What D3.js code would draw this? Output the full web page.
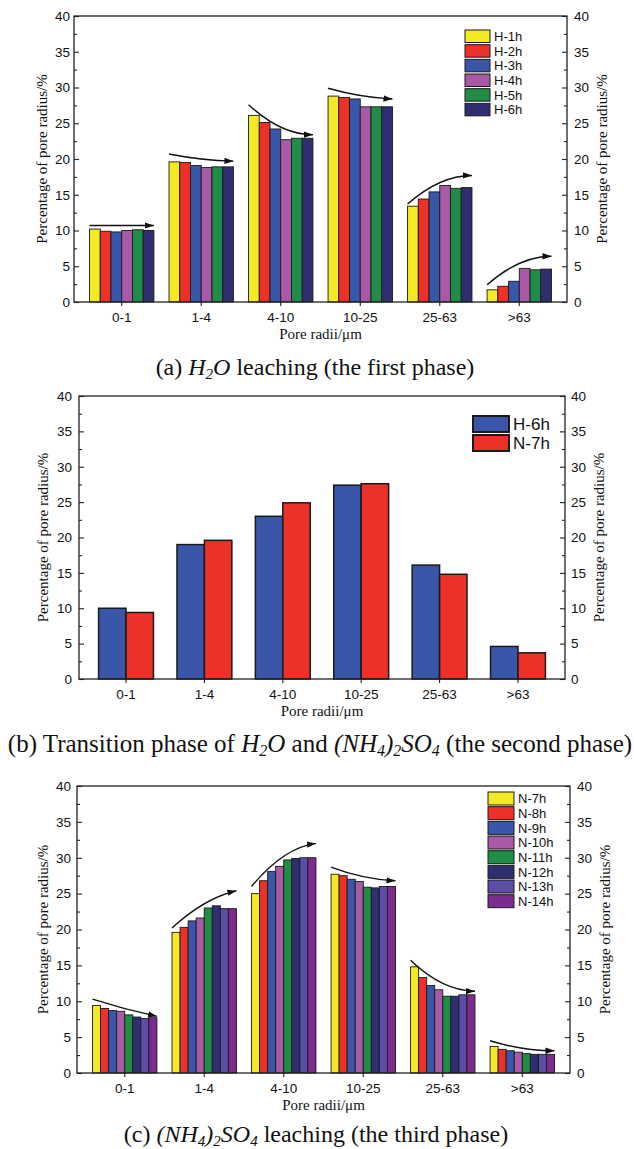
<!DOCTYPE html>
<html>
<head>
<meta charset="utf-8">
<script src="https://cdn.jsdelivr.net/npm/d3@7"></script>
<style>
  body { margin: 0; background: #fff; }
  .tick text { font-family: "Liberation Sans", Arial, sans-serif; font-size: 13.5px; fill: #111; }
  .serif { font-family: "Liberation Serif", "Times New Roman", serif; fill: #111; }
  .sans { font-family: "Liberation Sans", Arial, sans-serif; fill: #111; }
</style>
</head>
<body>
<div id="chart"></div>
<script>
// ---- data ----
const categories = ["0-1", "1-4", "4-10", "10-25", "25-63", ">63"];
const yTicks = [0, 5, 10, 15, 20, 25, 30, 35, 40];
const yMinorTicks = [2.5, 7.5, 12.5, 17.5, 22.5, 27.5, 32.5, 37.5];

// (a) H2O leaching
const seriesA = ["H-1h", "H-2h", "H-3h", "H-4h", "H-5h", "H-6h"];
const valuesA = [
  [10.2, 19.6, 26.1, 28.8, 13.4, 1.7],
  [9.9, 19.5, 25.1, 28.6, 14.4, 2.2],
  [9.8, 19.1, 24.2, 28.4, 15.4, 2.9],
  [10.0, 18.8, 22.7, 27.3, 16.3, 4.7],
  [10.1, 18.9, 22.9, 27.3, 15.9, 4.5],
  [10.0, 18.9, 22.9, 27.3, 16.0, 4.6]
];
// trend arrows: start and end value per category
const arrowsA = [[10.7, 10.7], [20.7, 19.7], [27.6, 23.4], [29.9, 28.4], [13.7, 17.7], [2.4, 6.4]];

// (b) transition
const seriesB = ["H-6h", "N-7h"];
const valuesB = [
  [10.0, 19.0, 23.0, 27.4, 16.1, 4.6],
  [9.4, 19.6, 24.9, 27.6, 14.8, 3.7]
];

// (c) (NH4)2SO4 leaching
const seriesC = ["N-7h", "N-8h", "N-9h", "N-10h", "N-11h", "N-12h", "N-13h", "N-14h"];
const valuesC = [
  [9.4, 19.6, 25.0, 27.7, 14.8, 3.7],
  [9.0, 20.3, 26.8, 27.5, 13.3, 3.3],
  [8.7, 21.2, 28.1, 27.0, 12.2, 3.1],
  [8.6, 21.6, 28.8, 26.7, 11.6, 2.9],
  [8.1, 23.0, 29.7, 25.9, 10.7, 2.7],
  [7.8, 23.3, 29.9, 25.8, 10.7, 2.6],
  [7.6, 22.9, 30.0, 26.0, 10.9, 2.6],
  [7.7, 22.9, 30.0, 26.0, 10.9, 2.6]
];
const arrowsC = [[10.3, 7.9], [20.2, 25.4], [26.0, 32.0], [28.7, 26.8], [15.7, 11.4], [4.5, 3.1]];

const yLabel = "Percentage of pore radius/%";
const xLabel = "Pore radii/\u03bcm";

// caption pieces: [text, italic, subscript]
const captionA = [["(a) "], ["H", 1], ["2", 1, 1], ["O", 1], [" leaching (the first phase)"]];
const captionB = [["(b) Transition phase of "], ["H", 1], ["2", 1, 1], ["O", 1], [" and "],
  ["(NH", 1], ["4", 1, 1], [")", 1], ["2", 1, 1], ["SO", 1], ["4", 1, 1], [" (the second phase)"]];
const captionC = [["(c) "], ["(NH", 1], ["4", 1, 1], [")", 1], ["2", 1, 1], ["SO", 1], ["4", 1, 1],
  [" leaching (the third phase)"]];

// ---- styles ----
const colorsA = ["#f3ea25", "#ec3129", "#3a56a8", "#a95aa6", "#1f8c48", "#2f2e70"];
const colorsB = ["#3a56a8", "#ec3129"];
const colorsC = ["#f3ea25", "#ec3129", "#3a56a8", "#a95aa6", "#1f8c48", "#2f2e70", "#5b4ea6", "#7c2b8e"];

const width = 634, height = 1149;

const svg = d3.select("#chart").append("svg")
  .attr("width", width)
  .attr("height", height);

svg.append("defs").append("marker")
  .attr("id", "head")
  .attr("viewBox", "0 0 10 10")
  .attr("refX", 10).attr("refY", 5)
  .attr("markerWidth", 9).attr("markerHeight", 9)
  .attr("markerUnits", "userSpaceOnUse")
  .attr("orient", "auto")
  .append("path")
  .attr("d", "M0,1.5 L10,5 L0,8.5 Z")
  .attr("fill", "#111");

function drawPanel(p) {
  const x = d3.scaleBand().domain(categories).range([p.left, p.right])
    .paddingInner(0).paddingOuter(0.1);
  const y = d3.scaleLinear().domain([0, 40]).range([p.bottom, p.top]);
  const groupW = x.bandwidth() * p.groupFrac;
  const xs = d3.scaleBand().domain(p.series).range([0, groupW]);
  const groupX = c => x(c) + (x.bandwidth() - groupW) / 2;

  const g = svg.append("g");

  // bars
  p.series.forEach((s, i) => {
    g.selectAll(null)
      .data(p.values[i])
      .enter()
      .append("rect")
      .attr("x", (d, j) => groupX(categories[j]) + xs(s))
      .attr("y", d => y(d))
      .attr("width", xs.bandwidth())
      .attr("height", d => y(0) - y(d))
      .attr("fill", p.colors[i])
      .attr("stroke", "#1a1a1a")
      .attr("stroke-width", p.barStroke);
  });

  // trend arrows
  if (p.arrows) {
    g.selectAll(null)
      .data(p.arrows)
      .enter()
      .append("path")
      .attr("d", (d, j) => {
        const x0 = groupX(categories[j]), x1 = x0 + groupW;
        const y0 = y(d[0]), y1 = y(d[1]);
        const k = p.bend[j];
        return "M" + x0 + "," + y0 + " Q" + (x0 + (x1 - x0) * 0.5) + "," + (y0 + (y1 - y0) * k) + " " + x1 + "," + y1;
      })
      .attr("fill", "none")
      .attr("stroke", "#111")
      .attr("stroke-width", 1.4)
      .attr("marker-end", "url(#head)");
  }

  // axes
  const left = g.append("g").attr("transform", "translate(" + p.left + ",0)")
    .call(d3.axisLeft(y).tickValues(yTicks).tickSize(-5).tickPadding(p.padL));
  const leftMinor = g.append("g").attr("transform", "translate(" + p.left + ",0)")
    .call(d3.axisLeft(y).tickValues(yMinorTicks).tickSize(-3).tickFormat(""));
  const right = g.append("g").attr("transform", "translate(" + p.right + ",0)")
    .call(d3.axisRight(y).tickValues(yTicks).tickSize(-5).tickPadding(p.padR));
  const rightMinor = g.append("g").attr("transform", "translate(" + p.right + ",0)")
    .call(d3.axisRight(y).tickValues(yMinorTicks).tickSize(-3).tickFormat(""));
  const bottom = g.append("g").attr("transform", "translate(0," + p.bottom + ")")
    .call(d3.axisBottom(x).tickSize(4).tickSizeOuter(0).tickPadding(6));

  [left, leftMinor, right, rightMinor, bottom].forEach(a => {
    a.select(".domain").remove();
    a.selectAll(".tick line").attr("stroke", "#222").attr("stroke-width", 1.1);
  });

  // frame
  g.append("rect")
    .attr("x", p.left).attr("y", p.top)
    .attr("width", p.right - p.left).attr("height", p.bottom - p.top)
    .attr("fill", "none").attr("stroke", "#222").attr("stroke-width", 1.3);

  // axis titles
  const midY = (p.top + p.bottom) / 2;
  g.append("text").attr("class", "serif")
    .attr("transform", "translate(" + p.yLabelL + "," + midY + ") rotate(-90)")
    .attr("text-anchor", "middle").attr("dy", "0.35em")
    .style("font-size", "15px").text(yLabel);
  g.append("text").attr("class", "serif")
    .attr("transform", "translate(" + p.yLabelR + "," + midY + ") rotate(-90)")
    .attr("text-anchor", "middle").attr("dy", "0.35em")
    .style("font-size", "15px").text(yLabel);
  g.append("text").attr("class", "serif")
    .attr("x", (p.left + p.right) / 2).attr("y", p.bottom + 32)
    .attr("text-anchor", "middle").attr("dy", "0.35em")
    .style("font-size", "15px").text(xLabel);

  // legend
  const lg = p.legend;
  const items = g.selectAll(null).data(p.series).enter().append("g")
    .attr("transform", (d, i) => "translate(" + lg.x + "," + (lg.y + i * lg.step) + ")");
  items.append("rect")
    .attr("width", lg.w).attr("height", lg.h)
    .attr("fill", (d, i) => p.colors[i])
    .attr("stroke", "#1a1a1a").attr("stroke-width", lg.stroke);
  items.append("text").attr("class", "sans")
    .attr("x", lg.w + 4).attr("y", lg.h / 2).attr("dy", "0.36em")
    .style("font-size", lg.font + "px")
    .text(d => d);

  // caption
  const cap = g.append("text").attr("class", "serif")
    .attr("x", p.capX).attr("y", p.capY)
    .attr("text-anchor", "middle")
    .style("font-size", p.capSize + "px");
  p.caption.forEach(part => {
    const t = cap.append("tspan").text(part[0]);
    if (part[1]) t.style("font-style", "italic");
    if (part[2]) t.style("font-size", Math.round(p.capSize * 0.62) + "px").attr("baseline-shift", "-4");
  });
}

drawPanel({
  left: 74, right: 567, top: 16, bottom: 302,
  series: seriesA, values: valuesA, colors: colorsA,
  groupFrac: 0.81, barStroke: 0.9,
  arrows: arrowsA, bend: [0.5, 0.9, 1, 0.85, 1, 1],
  padL: 4, padR: 7, yLabelL: 42, yLabelR: 602,
  legend: { x: 465, y: 30, w: 25, h: 12.5, step: 14.67, font: 13, stroke: 1 },
  caption: captionA, capX: 315, capY: 375, capSize: 24
});

drawPanel({
  left: 79, right: 565, top: 396, bottom: 679,
  series: seriesB, values: valuesB, colors: colorsB,
  groupFrac: 0.70, barStroke: 1.5,
  padL: 7, padR: 6, yLabelL: 43, yLabelR: 599,
  legend: { x: 473, y: 416, w: 36, h: 16, step: 19, font: 17, stroke: 2 },
  caption: captionB, capX: 320, capY: 752, capSize: 25
});

drawPanel({
  left: 77, right: 570, top: 786, bottom: 1073,
  series: seriesC, values: valuesC, colors: colorsC,
  groupFrac: 0.81, barStroke: 0.9,
  arrows: arrowsC, bend: [0.6, 0.8, 0.9, 0.9, 1, 1],
  padL: 6, padR: 7, yLabelL: 43, yLabelR: 605,
  legend: { x: 488, y: 792, w: 26, h: 13, step: 14.67, font: 13, stroke: 1 },
  caption: captionC, capX: 316, capY: 1142, capSize: 24
});
</script>
</body>
</html>
